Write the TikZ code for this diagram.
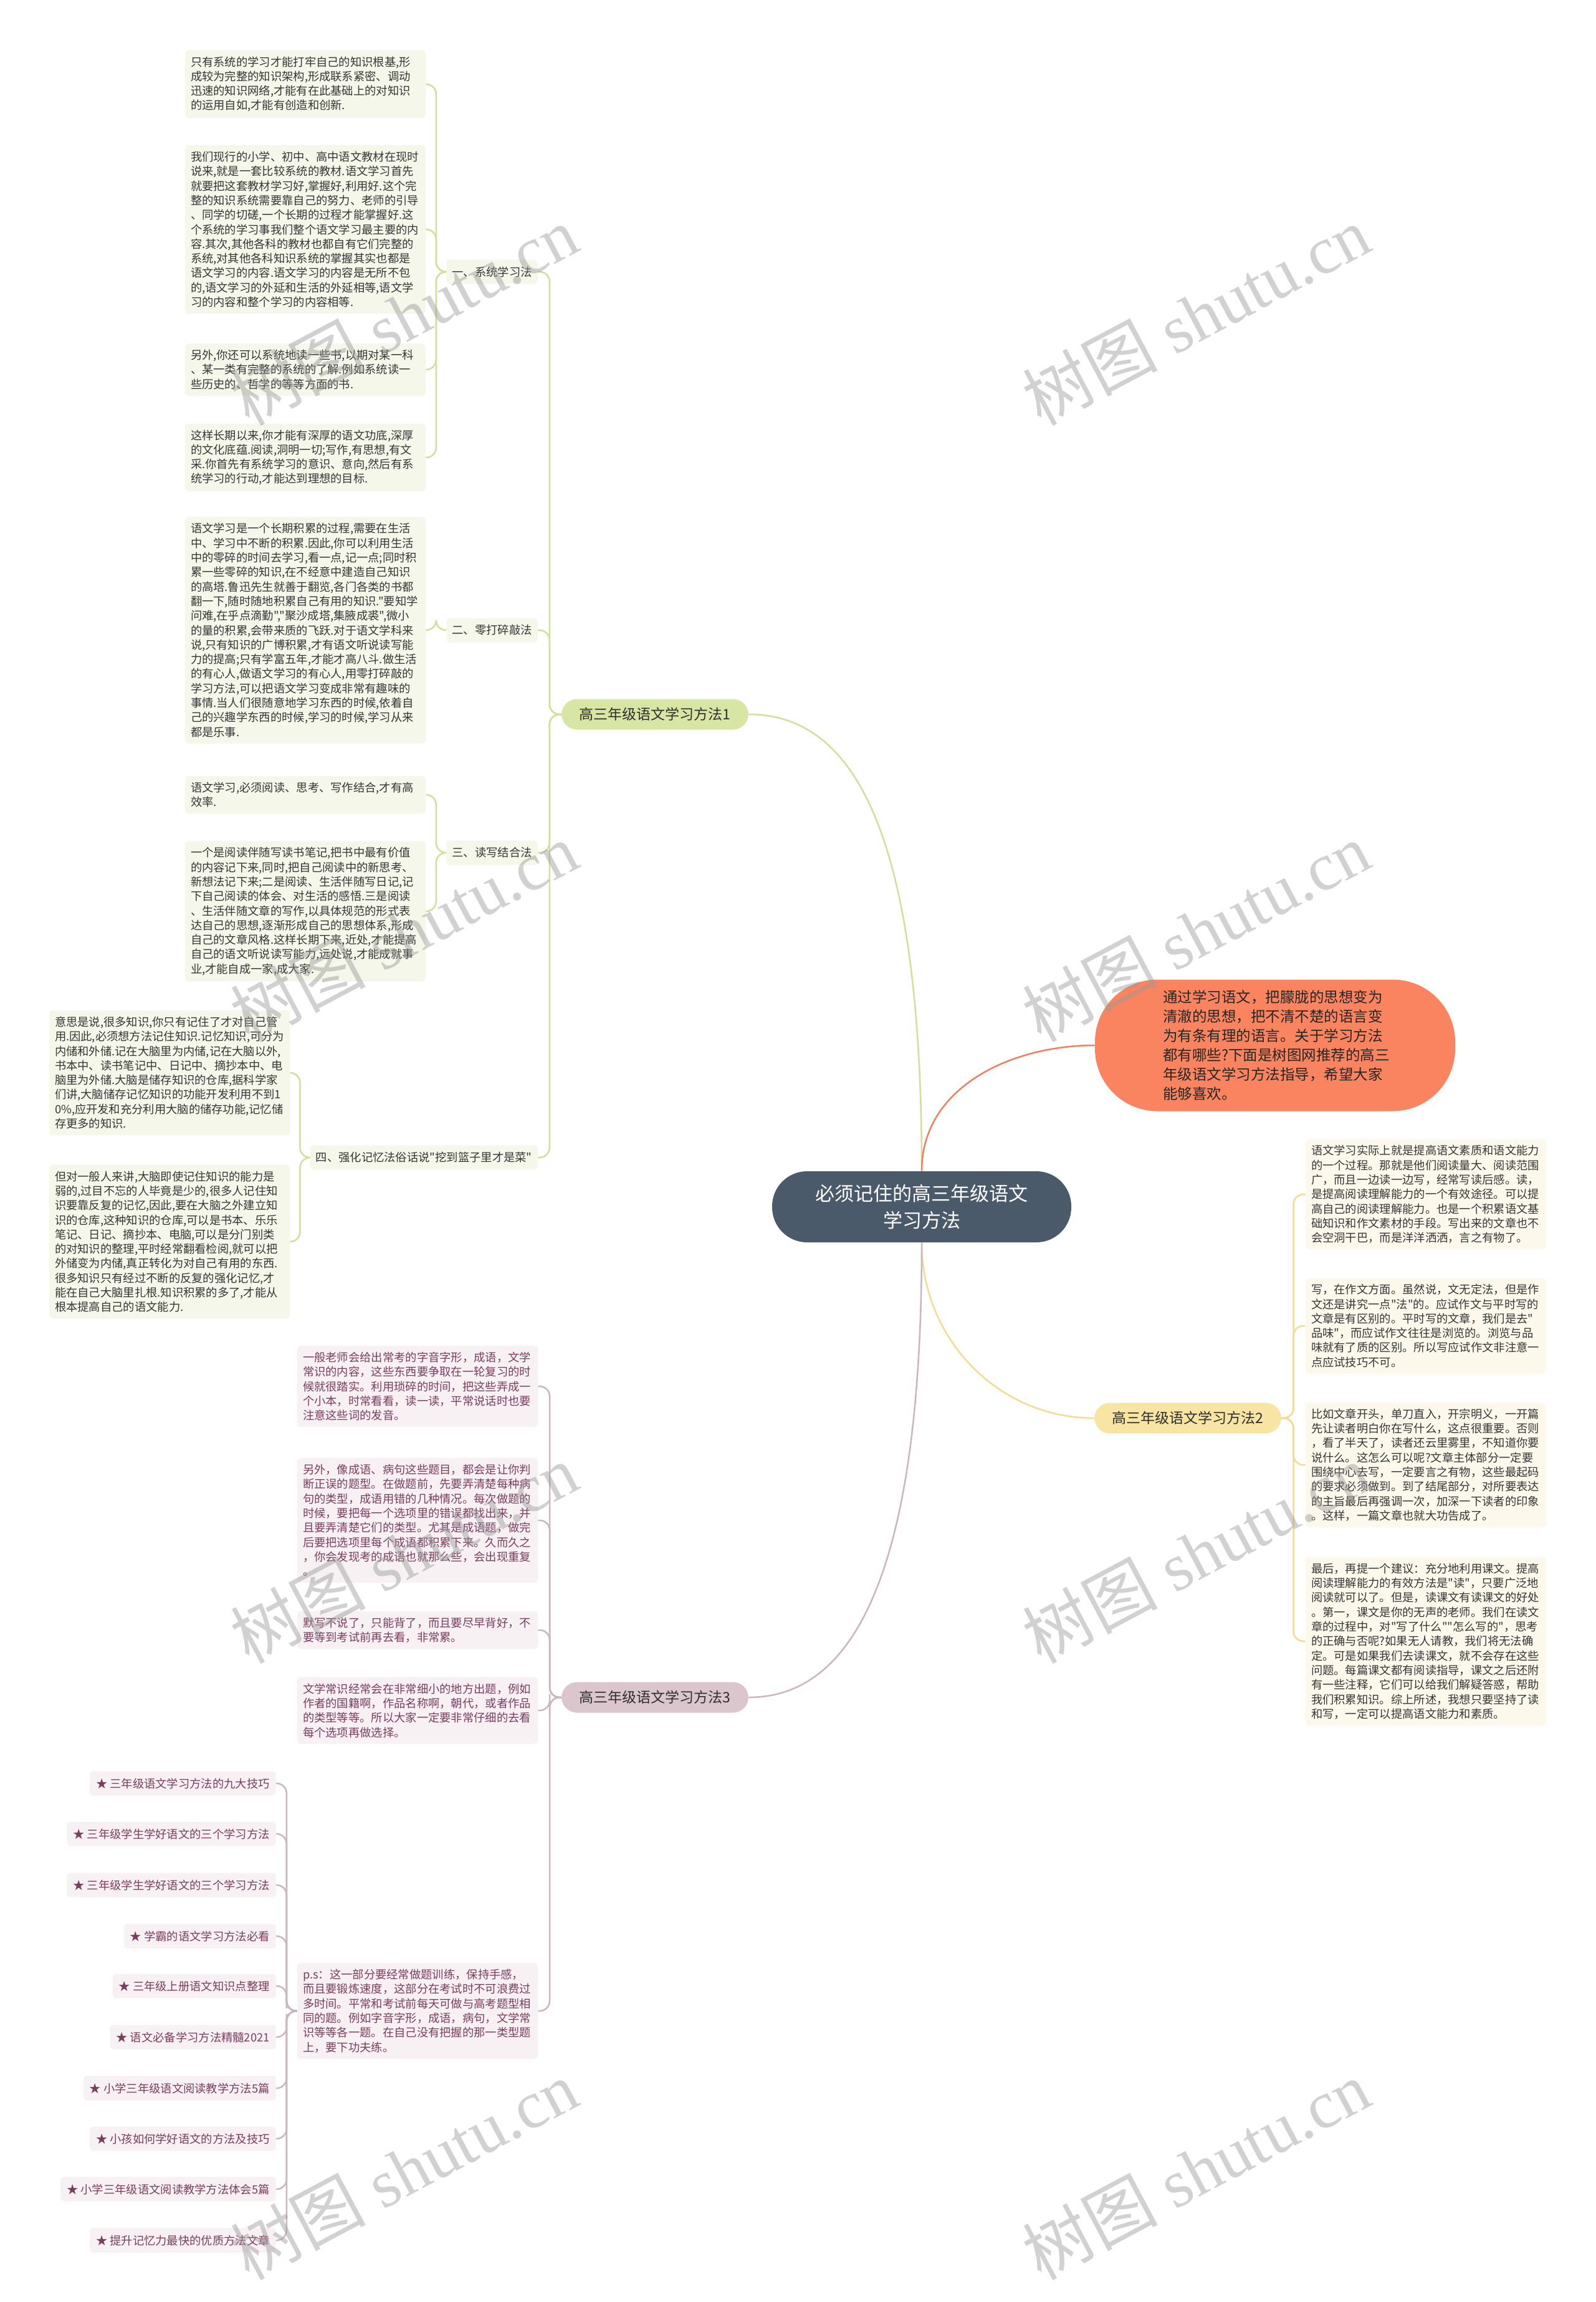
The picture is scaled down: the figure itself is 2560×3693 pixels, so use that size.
\documentclass[tikz,border=0pt]{standalone}
\usepackage{fontspec}
\newfontfamily\cjk{Noto Sans CJK SC}
\newfontfamily\wmlat{Liberation Serif}
\usetikzlibrary{calc}
\definecolor{cfill}{HTML}{4A5A6A}
\definecolor{ofill}{HTML}{F9845F}
\definecolor{oline}{HTML}{EE7F60}
\definecolor{gpill}{HTML}{D7E6A3}
\definecolor{gline}{HTML}{CFE09A}
\definecolor{gfill}{HTML}{F4F7E9}
\definecolor{ypill}{HTML}{F8E5A4}
\definecolor{yline}{HTML}{F2DC93}
\definecolor{yfill}{HTML}{FCF8EC}
\definecolor{ppill}{HTML}{DCC6CE}
\definecolor{pline}{HTML}{CBB6BF}
\definecolor{pfill}{HTML}{F7F1F3}
\definecolor{ptext}{HTML}{7B3D5D}
\definecolor{tdark}{HTML}{353535}
\newcommand\mmconn[3]{\draw[#1] (#2) -| ($(#2)!0.5!(#3)$) |- (#3);}
\begin{document}
\begin{tikzpicture}[x=0.5pt,y=-0.5pt,
 txt/.style={font=\cjk\fontsize{9.15pt}{11.65pt}\selectfont},
 box/.style={txt, rounded corners=3pt, inner xsep=4.5pt, inner ysep=5pt, align=left, text width=184pt},
 gbox/.style={box, fill=gfill, text=tdark},
 ybox/.style={box, fill=yfill, text=tdark},
 pbox/.style={box, fill=pfill, text=ptext},
 snode/.style={txt, fill=gfill, text=tdark, rounded corners=3pt, inner xsep=4.5pt, inner ysep=5.5pt, anchor=east},
 lnode/.style={txt, fill=pfill, text=ptext, rounded corners=3pt, inner xsep=5pt, inner ysep=5.5pt, anchor=east},
 pill/.style={font=\cjk\fontsize{11.5pt}{14pt}\selectfont, text=black!82, rounded corners=12.5pt, minimum height=24.5pt, minimum width=150pt, inner sep=2pt},
 conn/.style={line width=1.25pt, rounded corners=8pt},
 gconn/.style={conn, draw=gline},
 yconn/.style={conn, draw=yline},
 pconn/.style={conn, draw=pline},
 oconn/.style={conn, draw=oline},
 wm/.style={text=black!40, opacity=0.45, font=\wmlat\fontsize{54pt}{60pt}\selectfont, rotate=28}
]
\useasboundingbox (0,0) rectangle (2560,3693);
\fill[white] (0,0) rectangle (2560,3693);

% central and top-level
\node[fill=cfill, text=white, font=\cjk\fontsize{15.5pt}{21.5pt}\selectfont, align=center, minimum width=240pt, minimum height=57pt, rounded corners=28pt] (c) at (1479,1936) {必须记住的高三年级语文\\学习方法};
\node[fill=ofill, text=black!85, font=\cjk\fontsize{11.75pt}{15.5pt}\selectfont, align=left, text width=180pt, minimum width=289pt, minimum height=105.5pt, rounded corners=50pt] (o) at (2046,1677) {通过学习语文，把朦胧的思想变为\\清澈的思想，把不清不楚的语言变\\为有条有理的语言。关于学习方法\\都有哪些?下面是树图网推荐的高三\\年级语文学习方法指导，希望大家\\能够喜欢。};
\node[pill, fill=gpill] (b1) at (1051,1146) {高三年级语文学习方法1};
\node[pill, fill=ypill] (b2) at (1906,2275) {高三年级语文学习方法2};
\node[pill, fill=ppill] (b3) at (1051,2723) {高三年级语文学习方法3};

% branch 1
\node[snode] (s1) at (863,436) {一、系统学习法};
\node[snode] (s2) at (863,1011) {二、零打碎敲法};
\node[snode] (s3) at (863,1368) {三、读写结合法};
\node[snode] (s4) at (863,1857) {四、强化记忆法俗话说"挖到篮子里才是菜"};

\node[gbox] (g1) at (490,135) {只有系统的学习才能打牢自己的知识根基,形\\成较为完整的知识架构,形成联系紧密、调动\\迅速的知识网络,才能有在此基础上的对知识\\的运用自如,才能有创造和创新.};
\node[gbox] (g2) at (490,368) {我们现行的小学、初中、高中语文教材在现时\\说来,就是一套比较系统的教材.语文学习首先\\就要把这套教材学习好,掌握好,利用好.这个完\\整的知识系统需要靠自己的努力、老师的引导\\、同学的切磋,一个长期的过程才能掌握好.这\\个系统的学习事我们整个语文学习最主要的内\\容.其次,其他各科的教材也都自有它们完整的\\系统,对其他各科知识系统的掌握其实也都是\\语文学习的内容.语文学习的内容是无所不包\\的,语文学习的外延和生活的外延相等,语文学\\习的内容和整个学习的内容相等.};
\node[gbox] (g3) at (490,593) {另外,你还可以系统地读一些书,以期对某一科\\、某一类有完整的系统的了解.例如系统读一\\些历史的、哲学的等等方面的书.};
\node[gbox] (g4) at (490,734) {这样长期以来,你才能有深厚的语文功底,深厚\\的文化底蕴.阅读,洞明一切;写作,有思想,有文\\采.你首先有系统学习的意识、意向,然后有系\\统学习的行动,才能达到理想的目标.};
\node[gbox] (g5) at (490,1011) {语文学习是一个长期积累的过程,需要在生活\\中、学习中不断的积累.因此,你可以利用生活\\中的零碎的时间去学习,看一点,记一点;同时积\\累一些零碎的知识,在不经意中建造自己知识\\的高塔.鲁迅先生就善于翻览,各门各类的书都\\翻一下,随时随地积累自己有用的知识."要知学\\问难,在乎点滴勤","聚沙成塔,集腋成裘",微小\\的量的积累,会带来质的飞跃.对于语文学科来\\说,只有知识的广博积累,才有语文听说读写能\\力的提高;只有学富五年,才能才高八斗.做生活\\的有心人,做语文学习的有心人,用零打碎敲的\\学习方法,可以把语文学习变成非常有趣味的\\事情.当人们很随意地学习东西的时候,依着自\\己的兴趣学东西的时候,学习的时候,学习从来\\都是乐事.};
\node[gbox] (g6) at (490,1275) {语文学习,必须阅读、思考、写作结合,才有高\\效率.};
\node[gbox] (g7) at (490,1462) {一个是阅读伴随写读书笔记,把书中最有价值\\的内容记下来,同时,把自己阅读中的新思考、\\新想法记下来;二是阅读、生活伴随写日记,记\\下自己阅读的体会、对生活的感悟.三是阅读\\、生活伴随文章的写作,以具体规范的形式表\\达自己的思想,逐渐形成自己的思想体系,形成\\自己的文章风格.这样长期下来,近处,才能提高\\自己的语文听说读写能力,远处说,才能成就事\\业,才能自成一家,成大家.};
\node[gbox] (g8) at (272,1721) {意思是说,很多知识,你只有记住了才对自己管\\用.因此,必须想方法记住知识.记忆知识,可分为\\内储和外储.记在大脑里为内储,记在大脑以外,\\书本中、读书笔记中、日记中、摘抄本中、电\\脑里为外储.大脑是储存知识的仓库,据科学家\\们讲,大脑储存记忆知识的功能开发利用不到1\\0\%,应开发和充分利用大脑的储存功能,记忆储\\存更多的知识.};
\node[gbox] (g9) at (272,1992) {但对一般人来讲,大脑即使记住知识的能力是\\弱的,过目不忘的人毕竟是少的,很多人记住知\\识要靠反复的记忆,因此,要在大脑之外建立知\\识的仓库,这种知识的仓库,可以是书本、乐乐\\笔记、日记、摘抄本、电脑,可以是分门别类\\的对知识的整理,平时经常翻看检阅,就可以把\\外储变为内储,真正转化为对自己有用的东西.\\很多知识只有经过不断的反复的强化记忆,才\\能在自己大脑里扎根.知识积累的多了,才能从\\根本提高自己的语文能力.};

% branch 2
\node[ybox] (r1) at (2288,1916) {语文学习实际上就是提高语文素质和语文能力\\的一个过程。那就是他们阅读量大、阅读范围\\广，而且一边读一边写，经常写读后感。读，\\是提高阅读理解能力的一个有效途径。可以提\\高自己的阅读理解能力。也是一个积累语文基\\础知识和作文素材的手段。写出来的文章也不\\会空洞干巴，而是洋洋洒洒，言之有物了。};
\node[ybox] (r2) at (2288,2127) {写，在作文方面。虽然说，文无定法，但是作\\文还是讲究一点"法"的。应试作文与平时写的\\文章是有区别的。平时写的文章，我们是去"\\品味"，而应试作文往往是浏览的。浏览与品\\味就有了质的区别。所以写应试作文非注意一\\点应试技巧不可。};
\node[ybox] (r3) at (2288,2350) {比如文章开头，单刀直入，开宗明义，一开篇\\先让读者明白你在写什么，这点很重要。否则\\，看了半天了，读者还云里雾里，不知道你要\\说什么。这怎么可以呢?文章主体部分一定要\\围绕中心去写，一定要言之有物，这些最起码\\的要求必须做到。到了结尾部分，对所要表达\\的主旨最后再强调一次，加深一下读者的印象\\。这样，一篇文章也就大功告成了。};
\node[ybox] (r4) at (2288,2633) {最后，再提一个建议：充分地利用课文。提高\\阅读理解能力的有效方法是"读"，只要广泛地\\阅读就可以了。但是，读课文有读课文的好处\\。第一，课文是你的无声的老师。我们在读文\\章的过程中，对"写了什么""怎么写的"，思考\\的正确与否呢?如果无人请教，我们将无法确\\定。可是如果我们去读课文，就不会存在这些\\问题。每篇课文都有阅读指导，课文之后还附\\有一些注释，它们可以给我们解疑答惑，帮助\\我们积累知识。综上所述，我想只要坚持了读\\和写，一定可以提高语文能力和素质。};

% branch 3
\node[pbox] (p1) at (670,2224) {一般老师会给出常考的字音字形，成语，文学\\常识的内容，这些东西要争取在一轮复习的时\\候就很踏实。利用琐碎的时间，把这些弄成一\\个小本，时常看看，读一读，平常说话时也要\\注意这些词的发音。};
\node[pbox] (p2) at (670,2439) {另外，像成语、病句这些题目，都会是让你判\\断正误的题型。在做题前，先要弄清楚每种病\\句的类型，成语用错的几种情况。每次做题的\\时候，要把每一个选项里的错误都找出来，并\\且要弄清楚它们的类型。尤其是成语题，做完\\后要把选项里每个成语都积累下来。久而久之\\，你会发现考的成语也就那么些，会出现重复\\。};
\node[pbox] (p3) at (670,2615) {默写不说了，只能背了，而且要尽早背好，不\\要等到考试前再去看，非常累。};
\node[pbox] (p4) at (670,2744) {文学常识经常会在非常细小的地方出题，例如\\作者的国籍啊，作品名称啊，朝代，或者作品\\的类型等等。所以大家一定要非常仔细的去看\\每个选项再做选择。};
\node[pbox] (p5) at (670,3226) {p.s：这一部分要经常做题训练，保持手感，\\而且要锻炼速度，这部分在考试时不可浪费过\\多时间。平常和考试前每天可做与高考题型相\\同的题。例如字音字形，成语，病句，文学常\\识等等各一题。在自己没有把握的那一类型题\\上，要下功夫练。};

\node[lnode] (l1) at (443,2861) {★ 三年级语文学习方法的九大技巧};
\node[lnode] (l2) at (443,2942) {★ 三年级学生学好语文的三个学习方法};
\node[lnode] (l3) at (443,3024) {★ 三年级学生学好语文的三个学习方法};
\node[lnode] (l4) at (443,3106) {★ 学霸的语文学习方法必看};
\node[lnode] (l5) at (443,3186) {★ 三年级上册语文知识点整理};
\node[lnode] (l6) at (443,3268) {★ 语文必备学习方法精髓2021};
\node[lnode] (l7) at (443,3350) {★ 小学三年级语文阅读教学方法5篇};
\node[lnode] (l8) at (443,3431) {★ 小孩如何学好语文的方法及技巧};
\node[lnode] (l9) at (443,3512) {★ 小学三年级语文阅读教学方法体会5篇};
\node[lnode] (l10) at (443,3594) {★ 提升记忆力最快的优质方法文章};

% connectors from centre
\draw[gconn] (c.north) to[out=90,in=0,out distance=270pt,in distance=85pt] (b1.east);
\draw[oconn] (c.north) to[out=90,in=180] (o.west);
\draw[yconn] (c.south) to[out=-90,in=180] (b2.west);
\draw[pconn] (c.south) to[out=-90,in=0,out distance=250pt,in distance=90pt] (b3.east);

% branch 1 connectors
\foreach \s in {s1,s2,s3,s4} {\mmconn{gconn}{b1.west}{\s.east}}
\foreach \g in {g1,g2,g3,g4} {\mmconn{gconn}{s1.west}{\g.east}}
\mmconn{gconn}{s2.west}{g5.east}
\foreach \g in {g6,g7} {\mmconn{gconn}{s3.west}{\g.east}}
\foreach \g in {g8,g9} {\mmconn{gconn}{s4.west}{\g.east}}

% branch 2 connectors
\foreach \r in {r1,r2,r3,r4} {\mmconn{yconn}{b2.east}{\r.west}}

% branch 3 connectors
\foreach \p in {p1,p2,p3,p4,p5} {\mmconn{pconn}{b3.west}{\p.east}}
\foreach \l in {l1,l2,l3,l4,l5,l6,l7,l8,l9,l10} {\mmconn{pconn}{p5.west}{\l.east}}

% watermarks
\foreach \wx in {648,1919} {
  \foreach \wy [count=\k] in {506,1495,2492,3481} {
    \node[wm] (wm\wx\k) at (\wx,\wy) {{\cjk 树图} shutu.cn};
  }
}
\end{tikzpicture}
\end{document}
